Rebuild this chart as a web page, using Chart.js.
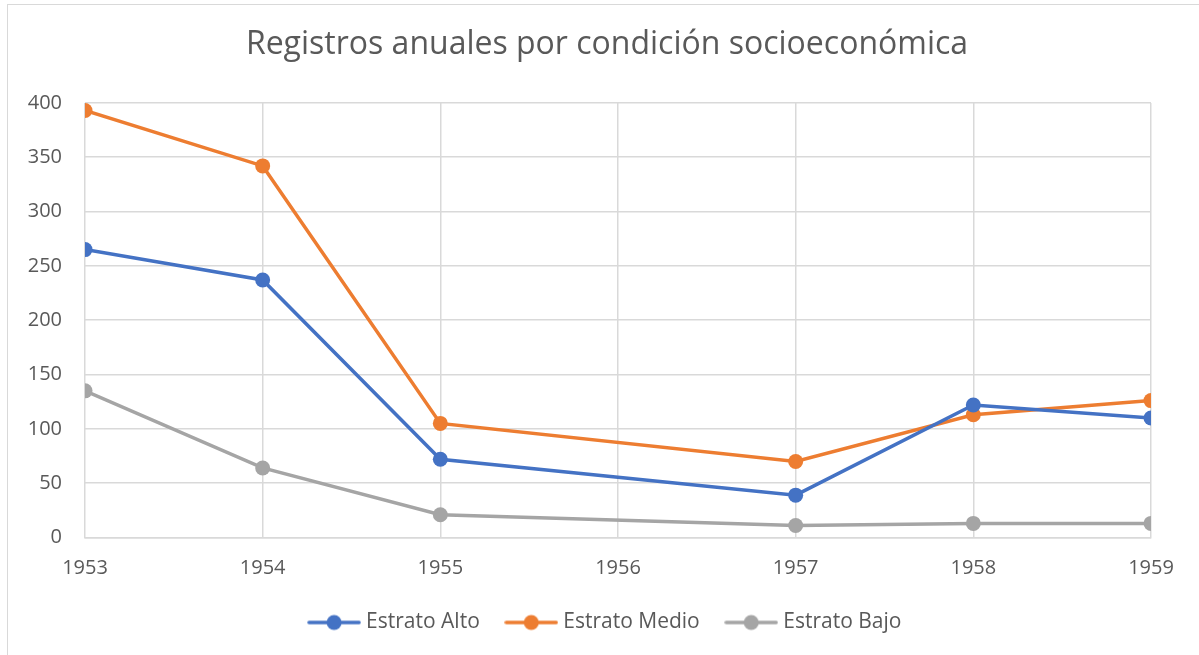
<!DOCTYPE html>
<html>
<head>
<meta charset="utf-8">
<script src="https://cdn.jsdelivr.net/npm/chart.js@4/dist/chart.umd.min.js"></script>
<style>
  html, body { margin: 0; padding: 0; background: #ffffff; overflow: hidden; }
  #wrap { position: relative; width: 1199px; height: 655px; overflow: hidden; }
  #frame { position: absolute; left: 7px; top: 4px; width: 1220px; height: 680px; border: 1px solid #d9d9d9; pointer-events: none; }
  canvas { position: absolute; left: 0; top: 0; }
</style>
</head>
<body>
<div id="wrap">
  <canvas id="c" width="1199" height="655"></canvas>
  <div id="frame"></div>
</div>
<script>
const chartTitle = "Registros anuales por condición socioeconómica";
const years = [1953, 1954, 1955, 1957, 1958, 1959];
const seriesNames = ["Estrato Alto", "Estrato Medio", "Estrato Bajo"];
const estratoAlto = [265, 237, 72, 39, 122, 110];
const estratoMedio = [393, 342, 105, 70, 113, 126];
const estratoBajo = [135, 64, 21, 11, 13, 13];
const yTicks = [0, 50, 100, 150, 200, 250, 300, 350, 400];
const xTicks = [1953, 1954, 1955, 1956, 1957, 1958, 1959];

const colors = ["#4472C4", "#ED7D31", "#A5A5A5"];
const allValues = [estratoAlto, estratoMedio, estratoBajo];
const FONT = "'Open Sans', 'Noto Sans', sans-serif";
const TEXT = "#595959";

function legendIcon(color) {
  const cv = document.createElement('canvas');
  cv.width = 54; cv.height = 18;
  const g = cv.getContext('2d');
  g.strokeStyle = color; g.lineWidth = 3.5; g.lineCap = 'round';
  g.beginPath(); g.moveTo(2, 9); g.lineTo(52, 9); g.stroke();
  g.fillStyle = color;
  g.beginPath(); g.arc(27, 9, 7.5, 0, Math.PI * 2); g.fill();
  return cv;
}
const icons = colors.map(legendIcon);

const datasets = seriesNames.map((name, i) => ({
  label: name,
  data: years.map((y, j) => ({ x: y, y: allValues[i][j] })),
  borderColor: colors[i],
  backgroundColor: colors[i],
  borderWidth: 3.5,
  pointStyle: 'circle',
  pointRadius: 7.5,
  pointHoverRadius: 7.5,
  pointBorderWidth: 0,
  tension: 0
}));

new Chart(document.getElementById('c'), {
  type: 'line',
  data: { datasets },
  options: {
    responsive: false,
    animation: false,
    layout: { padding: { left: 20, right: 5, top: 0, bottom: 12 } },
    plugins: {
      title: {
        display: true,
        text: chartTitle,
        color: TEXT,
        font: { family: FONT, size: 32, weight: 'normal' },
        padding: { top: 26, bottom: 38.5 }
      },
      legend: {
        position: 'bottom',
        labels: {
          usePointStyle: true,
          pointStyleWidth: 43,
          color: TEXT,
          font: { family: FONT, size: 21 },
          padding: 30,
          generateLabels: (chart) => chart.data.datasets.map((ds, i) => ({
            text: ds.label,
            fillStyle: ds.borderColor,
            strokeStyle: ds.borderColor,
            fontColor: TEXT,
            pointStyle: icons[i],
            datasetIndex: i,
            hidden: false,
            lineWidth: 0
          }))
        }
      },
      tooltip: { enabled: false }
    },
    scales: {
      x: {
        type: 'linear',
        min: 1953,
        max: 1959,
        afterBuildTicks: (s) => { s.ticks = xTicks.map(v => ({ value: v })); },
        afterFit: (s) => { s.height = 44.5; },
        ticks: {
          color: TEXT,
          font: { family: FONT, size: 20 },
          padding: 19,
          callback: (v) => String(v),
          maxRotation: 0
        },
        grid: { color: '#d9d9d9', lineWidth: 1.5, drawTicks: false },
        border: { color: '#d9d9d9', width: 1.5 }
      },
      y: {
        min: 0,
        max: 400,
        afterBuildTicks: (s) => { s.ticks = yTicks.map(v => ({ value: v })); },
        afterFit: (s) => { s.width = 65; },
        ticks: {
          color: TEXT,
          font: { family: FONT, size: 20 },
          padding: 23
        },
        grid: { color: '#d9d9d9', lineWidth: 1.5, drawTicks: false },
        border: { display: false }
      },
      spacer: {
        type: 'linear',
        position: 'right',
        display: true,
        afterFit: (s) => { s.width = 43; },
        ticks: { display: false },
        grid: { display: false, drawTicks: false },
        border: { display: false }
      }
    }
  }
});
</script>
</body>
</html>
